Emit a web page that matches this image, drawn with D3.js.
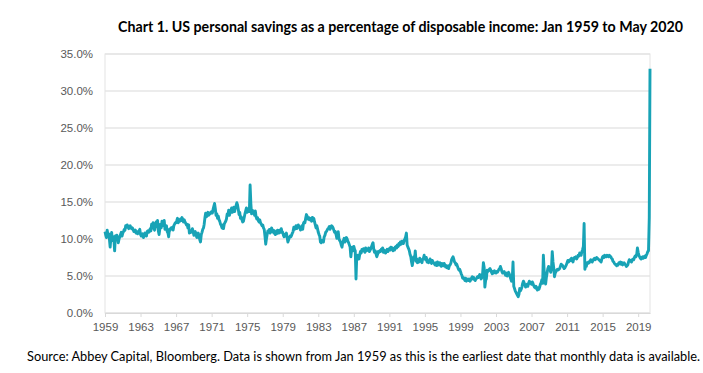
<!DOCTYPE html>
<html>
<head>
<meta charset="utf-8">
<script src="https://cdn.jsdelivr.net/npm/d3@7"></script>
<style>
  html, body { margin: 0; padding: 0; background: #fff; }
  svg { display: block; font-family: Lato, "Open Sans", sans-serif; }
  .axis text { fill: #595959; font-size: 11.5px; }
</style>
</head>
<body>
<div id="chartContainer"></div>
<script>
// monthly US personal savings rate (%), one row per year, Jan 1959 .. May 2020
const startYear = 1959;
const savingsByYear = [
  [11.0, 10.5, 10.2, 11.2, 10.6, 10.7, 10.0, 8.9, 10.2, 10.9, 9.8, 10.3], // 1959
  [10.0, 8.4, 10.4, 9.9, 10.5, 10.2, 9.5, 10.0, 10.3, 10.6, 10.9, 10.4],
  [10.8, 11.0, 11.3, 11.2, 11.8, 11.6, 11.9, 11.7, 11.4, 11.6, 11.8, 11.5],
  [11.4, 11.5, 11.3, 11.0, 11.1, 11.2, 10.8, 11.0, 10.7, 10.9, 11.1, 11.3],
  [10.6, 10.4, 10.5, 10.7, 10.2, 10.5, 10.8, 10.6, 10.4, 11.0, 11.1, 10.9],
  [11.0, 11.4, 11.1, 12.0, 11.6, 12.2, 11.4, 11.2, 11.8, 12.3, 11.7, 12.5],
  [11.1, 10.6, 11.3, 12.0, 11.5, 12.4, 11.8, 12.0, 12.5, 11.3, 11.6, 11.8],
  [11.0, 10.8, 10.3, 11.3, 11.2, 11.5, 11.4, 11.6, 11.2, 11.8, 12.0, 12.2],
  [12.2, 12.5, 12.8, 12.2, 12.6, 12.4, 12.7, 12.5, 12.9, 12.6, 12.3, 12.6],
  [12.3, 12.1, 11.9, 12.0, 11.5, 11.9, 10.8, 11.0, 10.9, 11.1, 11.4, 11.0],
  [10.5, 10.8, 11.0, 10.6, 10.2, 10.4, 10.8, 10.3, 9.9, 9.6, 10.6, 10.9], // 1969
  [11.3, 11.5, 12.0, 12.9, 13.5, 13.0, 13.3, 13.6, 13.2, 13.5, 13.4, 13.6],
  [13.7, 13.5, 14.0, 14.4, 14.8, 14.1, 13.2, 13.4, 12.8, 13.1, 12.6, 12.4],
  [12.0, 11.8, 11.5, 11.9, 11.4, 12.0, 12.2, 12.4, 12.7, 13.4, 13.2, 13.9],
  [13.2, 13.6, 13.9, 14.2, 13.6, 14.0, 14.3, 13.7, 14.2, 14.5, 14.9, 14.6],
  [14.0, 13.3, 13.6, 12.8, 13.0, 12.6, 12.3, 12.4, 12.9, 13.4, 13.8, 14.2],
  [13.6, 13.8, 14.1, 13.7, 17.3, 14.8, 13.4, 13.9, 13.5, 13.7, 13.2, 13.8], // 1975
  [13.0, 12.7, 12.9, 12.5, 12.3, 12.6, 12.2, 12.0, 11.8, 11.9, 11.5, 11.3],
  [10.4, 9.3, 10.0, 10.6, 11.1, 11.0, 11.3, 10.8, 11.0, 11.5, 11.0, 11.2],
  [10.8, 11.1, 10.6, 10.9, 10.7, 11.2, 11.0, 10.8, 11.2, 10.9, 11.4, 11.0],
  [10.9, 10.5, 10.3, 10.6, 10.4, 10.8, 10.2, 9.6, 9.9, 10.2, 10.4, 10.3],
  [10.5, 10.8, 11.0, 11.6, 11.3, 11.5, 11.8, 11.4, 11.6, 11.9, 11.7, 11.5], // 1980
  [11.2, 11.5, 11.8, 11.3, 12.1, 12.3, 12.2, 12.8, 13.3, 13.1, 12.7, 12.9],
  [12.6, 12.8, 12.7, 12.4, 12.9, 12.5, 12.8, 12.3, 11.9, 11.5, 11.8, 11.4],
  [10.9, 10.6, 10.4, 9.6, 9.5, 9.8, 9.7, 9.6, 10.3, 10.5, 10.9, 11.0],
  [11.2, 11.4, 11.5, 11.7, 11.3, 11.6, 11.8, 11.7, 11.5, 11.2, 10.9, 11.0],
  [10.6, 10.1, 10.3, 11.0, 10.0, 9.8, 9.6, 9.2, 8.9, 9.5, 9.8, 10.1], // 1985
  [9.6, 9.9, 10.2, 10.0, 9.7, 9.5, 9.2, 8.9, 7.6, 8.5, 8.9, 8.4],
  [9.0, 8.6, 8.4, 4.6, 7.6, 7.8, 7.6, 7.3, 7.9, 8.3, 8.1, 8.6],
  [8.4, 8.7, 8.5, 8.2, 8.8, 8.4, 8.6, 8.5, 8.8, 8.3, 8.5, 8.7],
  [9.0, 9.3, 9.5, 8.6, 8.2, 8.4, 8.0, 7.6, 7.9, 8.3, 8.2, 8.4],
  [8.3, 8.6, 8.4, 8.8, 8.2, 8.5, 8.3, 8.1, 8.4, 8.6, 8.3, 8.5], // 1990
  [8.7, 8.5, 8.9, 8.6, 8.8, 8.4, 8.7, 8.5, 8.9, 9.0, 8.8, 9.2],
  [9.0, 9.4, 9.2, 9.6, 9.3, 9.7, 9.5, 9.4, 9.8, 10.0, 10.3, 10.8],
  [9.2, 8.9, 8.7, 8.4, 7.9, 7.6, 6.9, 6.4, 7.1, 7.6, 7.3, 8.4],
  [7.0, 7.3, 6.8, 7.1, 6.9, 7.4, 7.0, 7.2, 6.8, 7.3, 7.4, 7.8],
  [7.4, 7.2, 7.5, 6.9, 7.1, 6.8, 7.0, 7.3, 6.9, 6.7, 7.1, 6.9], // 1995
  [6.8, 6.6, 6.5, 6.8, 6.4, 6.9, 6.7, 6.5, 6.8, 6.6, 6.3, 6.7],
  [6.6, 6.4, 6.7, 6.5, 6.2, 6.4, 6.1, 6.3, 6.0, 6.4, 6.5, 6.7],
  [7.2, 7.4, 7.6, 7.3, 6.9, 6.8, 6.5, 6.6, 6.3, 6.0, 5.8, 5.9],
  [5.6, 5.3, 5.1, 4.7, 4.8, 4.6, 4.4, 4.7, 4.3, 4.5, 4.6, 4.4],
  [4.6, 4.3, 4.5, 4.7, 4.9, 4.6, 4.8, 4.5, 4.4, 4.6, 4.7, 4.9], // 2000
  [4.8, 5.0, 5.2, 4.9, 4.6, 4.8, 5.4, 6.8, 6.2, 3.5, 4.4, 4.6],
  [5.8, 5.6, 5.7, 5.9, 6.0, 5.8, 5.5, 5.3, 5.6, 5.4, 5.7, 5.5],
  [5.4, 5.6, 5.5, 5.7, 5.9, 6.0, 6.3, 6.0, 5.6, 5.4, 5.5, 5.6],
  [5.3, 5.1, 5.4, 5.0, 5.2, 5.5, 5.3, 4.9, 4.6, 4.3, 4.7, 6.9],
  [3.6, 3.3, 3.0, 2.8, 2.6, 2.4, 2.2, 2.5, 3.3, 3.0, 3.2, 3.5], // 2005
  [4.0, 4.3, 4.1, 3.8, 3.5, 3.7, 3.9, 3.6, 4.0, 4.3, 4.2, 4.0],
  [3.9, 4.2, 4.0, 3.7, 3.5, 3.4, 3.6, 3.3, 3.1, 3.4, 3.2, 3.5],
  [3.9, 4.1, 4.5, 4.0, 7.8, 5.8, 4.6, 3.9, 4.8, 5.4, 6.0, 6.3],
  [6.0, 5.8, 5.5, 6.1, 8.3, 6.9, 6.1, 4.9, 5.4, 5.6, 5.8, 5.9],
  [5.8, 5.9, 6.0, 6.3, 6.6, 6.5, 6.4, 6.2, 6.0, 6.1, 6.3, 6.5], // 2010
  [6.8, 7.1, 6.9, 7.0, 7.2, 7.1, 7.4, 7.2, 6.9, 7.3, 7.5, 7.4],
  [7.6, 7.3, 7.5, 7.8, 7.7, 8.1, 7.9, 7.8, 8.3, 8.6, 9.0, 12.1],
  [5.9, 6.4, 6.3, 6.8, 6.7, 6.9, 6.8, 7.0, 7.2, 7.0, 6.9, 7.1],
  [7.3, 7.4, 7.2, 7.3, 7.5, 7.4, 7.3, 7.2, 7.1, 7.0, 6.9, 7.3],
  [7.6, 7.7, 7.5, 7.8, 7.7, 7.6, 7.8, 7.7, 7.6, 7.8, 7.7, 7.6], // 2015
  [7.4, 7.3, 7.0, 6.9, 6.7, 6.6, 6.5, 6.4, 6.6, 6.5, 6.8, 6.7],
  [6.9, 6.6, 6.8, 6.5, 6.7, 6.8, 6.6, 6.5, 6.3, 6.4, 6.5, 6.9],
  [7.2, 7.1, 7.0, 6.9, 7.2, 7.3, 7.2, 7.5, 7.7, 7.6, 7.9, 8.8],
  [8.2, 7.8, 7.6, 7.4, 7.3, 7.5, 7.6, 7.4, 7.6, 7.7, 7.5, 7.8],
  [8.0, 8.3, 8.4, 12.9, 33.0] // 2020, Jan..May
];

const yTicks = [0, 5, 10, 15, 20, 25, 30, 35];
const xTickYears = [1959, 1963, 1967, 1971, 1975, 1979, 1983, 1987, 1991, 1995, 1999, 2003, 2007, 2011, 2015, 2019];

const titleText = "Chart 1. US personal savings as a percentage of disposable income: Jan 1959 to May 2020";
const sourceText = "Source: Abbey Capital, Bloomberg. Data is shown from Jan 1959 as this is the earliest date that monthly data is available.";

const data = [];
savingsByYear.forEach((row, i) => {
  row.forEach((v, m) => data.push({ date: new Date(startYear + i, m, 1), value: v }));
});

const width = 703, height = 373;
const plot = { left: 105, right: 650, top: 54, bottom: 313 };

const svg = d3.select("#chartContainer")
  .append("svg")
  .attr("width", width)
  .attr("height", height);

const xScale = d3.scaleTime()
  .domain(d3.extent(data, d => d.date))
  .range([plot.left, plot.right]);

const yScale = d3.scaleLinear()
  .domain([0, 35])
  .range([plot.bottom, plot.top]);

// title
svg.append("text")
  .attr("x", 118)
  .attr("y", 32)
  .attr("textLength", 565)
  .attr("lengthAdjust", "spacingAndGlyphs")
  .style("font-size", "14.5px")
  .style("font-weight", "bold")
  .style("fill", "#000")
  .text(titleText);

// gridlines
svg.append("g")
  .selectAll("line")
  .data(yTicks)
  .enter().append("line")
    .attr("x1", plot.left)
    .attr("x2", plot.right)
    .attr("y1", d => yScale(d))
    .attr("y2", d => yScale(d))
    .attr("stroke", "#d9d9d9")
    .attr("stroke-width", 1);

// plot area frame
svg.append("rect")
  .attr("x", plot.left)
  .attr("y", plot.top)
  .attr("width", plot.right - plot.left)
  .attr("height", plot.bottom - plot.top)
  .attr("fill", "none")
  .attr("stroke", "#e3e3e3");

// y axis labels
const yAxis = svg.append("g")
  .attr("class", "axis y-axis")
  .attr("transform", `translate(${plot.left - 12}, 0)`)
  .call(d3.axisLeft(yScale).tickValues(yTicks).tickSize(0).tickFormat(d => d3.format(".1f")(d) + "%"));
yAxis.select(".domain").remove();
yAxis.selectAll("text").attr("dx", 0).attr("x", 0);

// x axis
const xAxis = svg.append("g")
  .attr("class", "axis x-axis")
  .attr("transform", `translate(0, ${plot.bottom})`)
  .call(d3.axisBottom(xScale)
    .tickValues(xTickYears.map(y => new Date(y, 0, 1)))
    .tickSize(4)
    .tickSizeOuter(0)
    .tickFormat(d3.timeFormat("%Y")));
xAxis.select(".domain").attr("stroke", "#d9d9d9");
xAxis.selectAll(".tick line").attr("stroke", "#d9d9d9");
xAxis.selectAll("text").attr("y", 10);

// savings line
const line = d3.line()
  .x(d => xScale(d.date))
  .y(d => yScale(d.value));

svg.append("path")
  .datum(data)
  .attr("fill", "none")
  .attr("stroke", "#18a3b6")
  .attr("stroke-width", 2.9)
  .attr("stroke-linejoin", "round")
  .attr("d", line);

// source note
svg.append("text")
  .attr("x", 27)
  .attr("y", 361)
  .attr("textLength", 673)
  .attr("lengthAdjust", "spacingAndGlyphs")
  .style("font-size", "12.5px")
  .style("fill", "#000")
  .text(sourceText);
</script>
</body>
</html>
